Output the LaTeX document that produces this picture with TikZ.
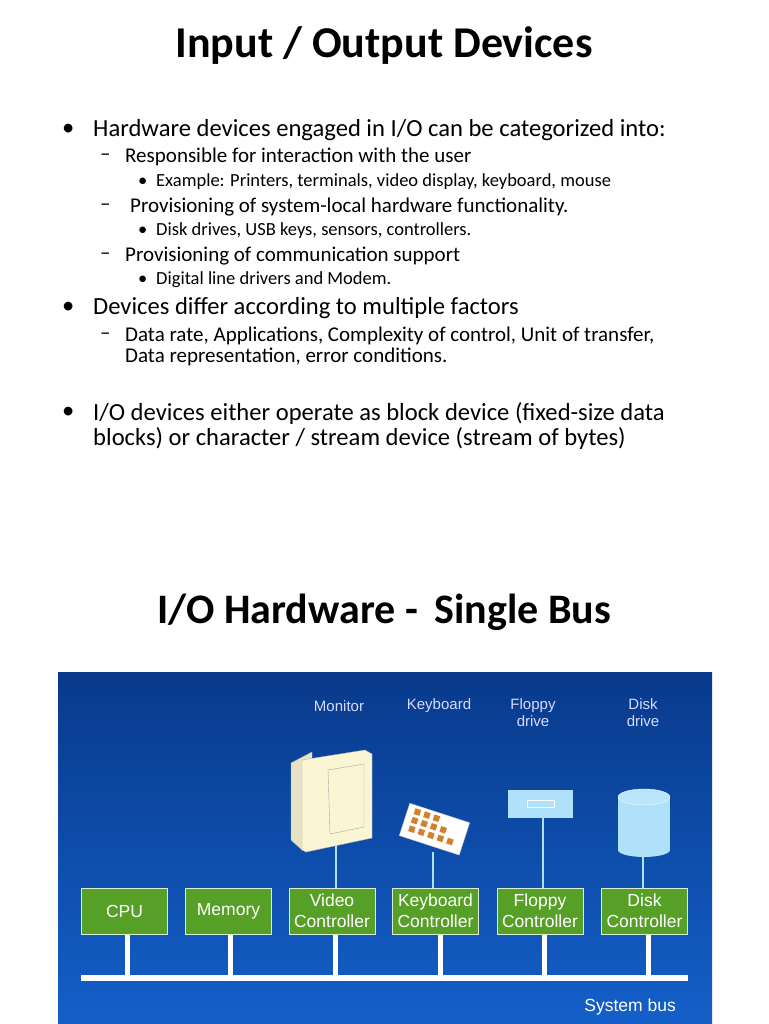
\documentclass[tikz,border=0pt]{standalone}
\usepackage{fontspec}
\setmainfont{Carlito}
\newfontfamily\arialf{Liberation Sans}
\usetikzlibrary{shapes.geometric}
\definecolor{bgtop}{RGB}{8,58,140}
\definecolor{bgbot}{RGB}{20,95,200}
\definecolor{gbox}{RGB}{86,160,40}
\definecolor{cream}{RGB}{250,245,210}
\definecolor{lblue}{RGB}{175,225,250}
\begin{document}
\begin{tikzpicture}[x=1pt,y=-1pt,
  t/.style={anchor=west,inner sep=0pt,font=\fontsize{24.6}{28}\selectfont},
  s/.style={anchor=west,inner sep=0pt,font=\fontsize{21}{24}\selectfont},
  ss/.style={anchor=west,inner sep=0pt,font=\fontsize{18.5}{21}\selectfont},
  gb/.style={draw=white!80!gbox,line width=1pt,fill=gbox,minimum width=86pt,minimum height=46pt,inner sep=0pt,align=center,text=white,font=\arialf\fontsize{17.5}{21}\selectfont},
  dl/.style={text=white!85!blue,font=\arialf\fontsize{15}{17}\selectfont,align=center,inner sep=0pt},
  stem/.style={white,line width=5pt},
  wire/.style={lblue,line width=1.3pt}]
\useasboundingbox (0,0) rectangle (768,1024);
\fill[white] (0,0) rectangle (768,1024);
\node[inner sep=0pt,font=\bfseries\fontsize{44}{48}\selectfont] (title) at (384,46) {Input / Output Devices};
\node[t] (b1) at (62,130) {•};
\node[t] (l1) at (93,130) {Hardware devices engaged in I/O can be categorized into:};
\node[s] (d1) at (100,157) {\textendash};
\node[s] (l2) at (125,157) {Responsible for interaction with the user};
\node[ss] (bb1) at (138,182) {•};
\node[ss] (l3) at (156,182) {Example: Printers, terminals, video display, keyboard, mouse};
\node[s] (d2) at (100,207) {\textendash};
\node[s] (l4) at (130,207) {Provisioning of system-local hardware functionality.};
\node[ss] (bb2) at (138,231) {•};
\node[ss] (l5) at (156,231) {Disk drives, USB keys, sensors, controllers.};
\node[s] (d3) at (100,256) {\textendash};
\node[s] (l6) at (125,256) {Provisioning of communication support};
\node[ss] (bb3) at (138,280) {•};
\node[ss] (l7) at (156,280) {Digital line drivers and Modem.};
\node[t] (b2) at (62,308) {•};
\node[t] (l8) at (93,308) {Devices differ according to multiple factors};
\node[s] (d4) at (100,336) {\textendash};
\node[s] (l9) at (125,336) {Data rate, Applications, Complexity of control, Unit of transfer,};
\node[s] (l10) at (125,357) {Data representation, error conditions.};
\node[t] (b3) at (62,413) {•};
\node[t] (l11) at (93,413) {I/O devices either operate as block device (fixed-size data};
\node[t] (l12) at (93,438) {blocks) or character / stream device (stream of bytes)};
\node[inner sep=0pt,font=\bfseries\fontsize{42}{46}\selectfont] (title2) at (384,612) {I/O Hardware -\, Single Bus};
% background
\shade[top color=bgtop,bottom color=bgbot] (58,672) rectangle (712,1024);
% bus
\coordinate (busL) at (81,978);
\coordinate (busR) at (688,978);
\draw[white,line width=6pt] (busL) -- (busR);
\node[gb] (cpu) at (124.5,911) {CPU};
\node[gb] (mem) at (228.5,911) {Memory};
\node[gb] (vid) at (332,911) {Video\\Controller};
\node[gb] (kbc) at (435.5,911) {Keyboard\\Controller};
\node[gb] (flc) at (540,911) {Floppy\\Controller};
\node[gb] (dkc) at (644.5,911) {Disk\\Controller};
\foreach \n/\x in {cpu/127,mem/230,vid/335,kbc/440,flc/544,dkc/648}{
  \coordinate (\n b) at (\x,978);
  \draw[stem] (\n.south -| \n b) -- (\n b);}
% labels
\node[dl] (lmon) at (339,706) {Monitor};
\node[dl] (lkey) at (439,706) {Keyboard};
\node[dl,anchor=north] (lflo) at (533,698) {Floppy\\drive};
\node[dl,anchor=north] (ldsk) at (643,698) {Disk\\drive};
% monitor
\fill[cream!85!gray,draw=gray!60] (291,763) -- (312,752) -- (312,840) -- (302,850) -- (291,840) -- cycle;
\fill[cream,draw=gray!60] (302,760) -- (365,750) -- (372,754) -- (372,838) -- (306,852) -- (302,850) -- cycle;
\draw[gray!70] (328,770) -- (364,764) -- (364,827) -- (330,834) -- cycle;
\coordinate (mon) at (336,845);
% keyboard
\fill[white,draw=gray!50,rotate around={-18:(434,829)}] (403,812) rectangle (466,846);
\foreach \i/\j in {0/0,1/0,2/0,0/1,1/1,2/1,3/1,0/2,1/2,2/2,3/2,4/2}{
  \fill[brown!70!orange,rotate around={-18:(434,829)}] (410+\i*10,815+\j*9) rectangle (416+\i*10,821+\j*9);}
\coordinate (kbd) at (433,852);
% floppy
\fill[lblue] (508,790) rectangle (573,818);
\draw[white,line width=0.8pt] (527,800) rectangle (554,807);
\coordinate (flo) at (543,818);
% disk
\fill[lblue] (618,797) rectangle (670,850);
\fill[lblue] (644,850) ellipse (26 and 7);
\fill[lblue!85!white,draw=white!80!lblue] (644,797) ellipse (26 and 8);
\coordinate (dsk) at (643,857);
% wires
\draw[wire] (mon) -- (mon |- vid.north);
\draw[wire] (kbd) -- (kbd |- kbc.north);
\draw[wire] (flo) -- (flo |- flc.north);
\draw[wire] (dsk) -- (dsk |- dkc.north);
\node[dl,anchor=east,text=white,font=\arialf\fontsize{17.5}{20}\selectfont] (sbus) at (676,1007) {System bus};
\end{tikzpicture}
\end{document}
